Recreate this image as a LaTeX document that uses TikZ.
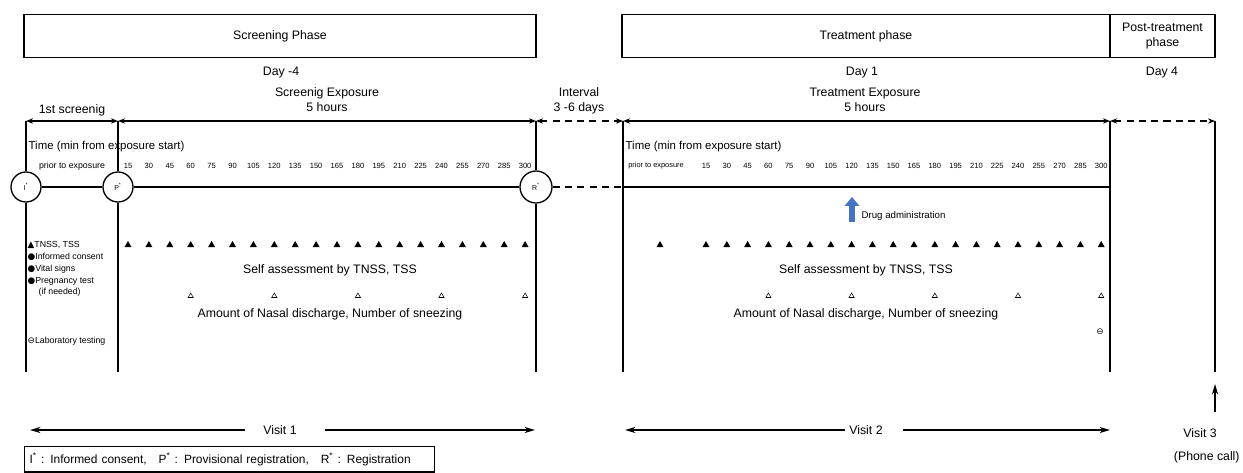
\documentclass[tikz,border=0pt]{standalone}
\usepackage{fontspec}
\setmainfont{Liberation Sans}
\newfontfamily\symfont{DejaVu Sans}
\usetikzlibrary{arrows.meta,positioning,shapes.geometric}
\definecolor{drugblue}{RGB}{68,114,196}

\begin{document}
\begin{tikzpicture}[
    x=0.2mm, y=-0.2mm,
    line width=0.75pt,
    phase/.style={draw, minimum height=8.6mm, align=center, font=\fontsize{7}{8.5}\selectfont},
    lbl/.style={align=center, inner sep=1pt, font=\fontsize{7}{8.5}\selectfont},
    tick/.style={inner sep=0pt, font=\fontsize{4.3}{5}\selectfont},
    key/.style={anchor=west, inner sep=0pt, font=\fontsize{5}{6}\selectfont},
    tri/.style={regular polygon, regular polygon sides=3, fill=black, inner sep=0pt, minimum size=1.6mm},
    smalltri/.style={regular polygon, regular polygon sides=3, draw, line width=0.3pt, inner sep=0pt, minimum size=1.2mm},
    regc/.style={circle, draw, inner sep=0pt, minimum size=6mm, font=\fontsize{4}{5}\selectfont},
    arrow/.style={-{Stealth[length=6pt, width=3.5pt]}},
    both/.style={{Stealth[length=4pt, width=3pt]}-{Stealth[length=4pt, width=3pt]}},
    gap/.style={both, dashed, dash pattern=on 4pt off 3pt}
]
\useasboundingbox (0,0) rectangle (1243,472);

\node[phase, minimum width=102.4mm] (scr) at (280,36) {Screening Phase};
\node[phase, minimum width=97.6mm] (trt) at (866,36) {Treatment phase};
\node[phase, minimum width=21mm] (post) at (1162.5,36) {Post-treatment\\phase};

\node[lbl] (day0) at (281,73) {Day -4};
\node[lbl] (day1) at (862,73) {Day 1};
\node[lbl] (day4) at (1162,73) {Day 4};
\node[lbl] (sexp) at (327,100) {Screenig Exposure\\5 hours};
\node[lbl] (intv) at (579,101) {Interval\\3 -6 days};
\node[lbl] (texp) at (865,100) {Treatment Exposure\\5 hours};
\node[lbl] (first) at (72,110) {1st screenig};

% registration points
\node[regc] (ic) at (26,187) {I\textsuperscript{*}};
\node[regc] (pc) at (118,187) {P\textsuperscript{*}};
\node[regc, minimum size=6.4mm] (rc) at (536,187) {R\textsuperscript{*}};

\foreach \x [count=\i] in {26,118,536,623,1110,1215} {
    \coordinate (t\i) at (\x,121);
    \coordinate (b\i) at (\x,372);
}
\draw (t1) -- (ic) -- (b1);
\draw (t2) -- (pc) -- (b2);
\draw (t3) -- (rc) -- (b3);
\draw (t4) -- (b4);
\draw (t5) -- (b5);
\draw (t6) -- (b6);

\draw[both] (t1) -- (t2);
\draw[both] (t2) -- (t3);
\draw[gap] (t3) -- (t4);
\draw[both] (t4) -- (t5);
\draw[gap] (t5) -- (t6);

\coordinate (h4) at (623,187);
\coordinate (h5) at (1110,187);
\draw (ic) -- (pc);
\draw (pc) -- (rc);
\draw[dashed, dash pattern=on 4pt off 3pt] (rc) -- (h4);
\draw (h4) -- (h5);

\node[key, font=\fontsize{6.5}{7}\selectfont] (stime) at (28,147) {Time (min from exposure start)};
\node[key, font=\fontsize{6.5}{7}\selectfont] (ttime) at (625,147) {Time (min from exposure start)};
\node[tick, font=\fontsize{5}{6}\selectfont] (sprior) at (72,166) {prior to exposure};
\node[tick, font=\fontsize{4.2}{5}\selectfont] (tprior) at (656,166) {prior to exposure};

\foreach \m [count=\k] in {15,30,...,300} {
    \node[tick] (snum\k) at ({128+20.9*(\k-1)},166) {\m};
    \node[tick] (tnum\k) at ({706+20.8*(\k-1)},166) {\m};
    \node[tri] (stri\k) at ({128+20.9*(\k-1)},245) {};
    \node[tri] (ttri\k) at ({706+20.8*(\k-1)},245) {};
}
\node[tri] (ttri0) at (660,245) {};
\foreach \k in {4,8,...,20} {
    \node[smalltri] (sobs\k) at ({128+20.9*(\k-1)},296) {};
    \node[smalltri] (tobs\k) at ({706+20.8*(\k-1)},296) {};
}

\coordinate (dt) at (852,222);
\coordinate (dh) at (852,197);
\draw[drugblue, line width=3.2pt, -{Triangle[width=8pt, length=5pt]}] (dt) -- (dh);
\node[key, font=\fontsize{5.5}{6}\selectfont] (drug) at (861,216) {Drug administration};

\node[lbl] (sself) at (330,270) {Self assessment by TNSS, TSS};
\node[lbl] (tself) at (866,270) {Self assessment by TNSS, TSS};
\node[lbl] (snasal) at (330,314) {Amount of Nasal discharge, Number of sneezing};
\node[lbl] (tnasal) at (866,314) {Amount of Nasal discharge, Number of sneezing};
\node[inner sep=0pt, font=\fontsize{5}{6}\symfont] (tlab) at (1100,332) {⊖};

% legend on the left
\node[key] (ktss) at (27,245) {{\symfont ▲}TNSS, TSS};
\node[key] (kic) at (27,257) {{\symfont ●}Informed consent};
\node[key] (kvs) at (27,269) {{\symfont ●}Vital signs};
\node[key] (kpt) at (27,281) {{\symfont ●}Pregnancy test};
\node[key] (kin) at (38,292) {(if needed)};
\node[key] (klab) at (27,341) {{\symfont ⊖}Laboratory testing};

% visits
\node[lbl] (visit1) at (280,430) {Visit 1};
\coordinate (v1l) at (30,430);
\coordinate (v1r) at (535,430);
\draw[arrow, shorten <=9pt] (visit1) -- (v1l);
\draw[arrow, shorten <=15pt] (visit1) -- (v1r);

\node[lbl] (visit2) at (866,430) {Visit 2};
\coordinate (v2l) at (625,430);
\coordinate (v2r) at (1110,430);
\draw[arrow, shorten <=1pt] (visit2) -- (v2l);
\draw[arrow, shorten <=10pt] (visit2) -- (v2r);

\node[lbl, anchor=west] (visit3) at (1181,433) {Visit 3};
\node[lbl, anchor=east] (phone) at (1242,457) {(Phone call)};
\coordinate (v3t) at (1215,412);
\coordinate (v3h) at (1215,384);
\draw[arrow] (v3t) -- (v3h);

\node[draw, anchor=north west, text width=80mm, inner xsep=1mm, minimum height=4.9mm, align=left,
      font=\fontsize{6.8}{7.5}\selectfont] (keybox) at (24,446)
      {I\textsuperscript{*} : Informed consent,\quad P\textsuperscript{*} : Provisional registration,\quad R\textsuperscript{*} : Registration};
\end{tikzpicture}
\end{document}
